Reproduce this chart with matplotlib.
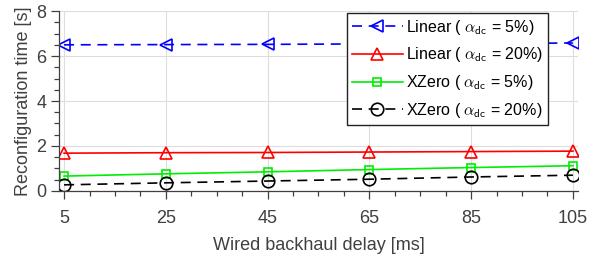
import numpy as np
import matplotlib
matplotlib.use("Agg")
import matplotlib.pyplot as plt

plt.rcParams["font.family"] = ["Liberation Sans", "DejaVu Sans"]
plt.rcParams["mathtext.fontset"] = "cm"

delay = [5, 25, 45, 65, 85, 105]
linear_5 = [6.50, 6.51, 6.52, 6.54, 6.56, 6.58]
linear_20 = [1.68, 1.70, 1.71, 1.73, 1.75, 1.77]
xzero_5 = [0.66, 0.76, 0.85, 0.95, 1.04, 1.12]
xzero_20 = [0.27, 0.36, 0.44, 0.52, 0.62, 0.70]

labels = [r"Linear ( $\alpha_{\mathsf{dc}}$ = 5%)",
          r"Linear ( $\alpha_{\mathsf{dc}}$ = 20%)",
          r"XZero ( $\alpha_{\mathsf{dc}}$ = 5%)",
          r"XZero ( $\alpha_{\mathsf{dc}}$ = 20%)"]

grey = "#404040"
fig = plt.figure(figsize=(5.91, 2.58), dpi=100)
ax = fig.add_axes([0.0998, 0.26, 0.978 - 0.0998, 0.957 - 0.26])

ax.plot(delay, linear_5, "--", color="blue", marker="<", ms=9, mfc="none", mew=1.2, lw=1.2, dashes=(6, 4), label=labels[0])
ax.plot(delay, linear_20, "-", color="red", marker="^", ms=9, mfc="none", mew=1.2, lw=1.2, label=labels[1])
ax.plot(delay, xzero_5, "-", color="#00ee00", marker="s", ms=6, mfc="none", mew=1.2, lw=1.2, label=labels[2])
ax.plot(delay, xzero_20, "--", color="black", marker="o", ms=9, mfc="none", mew=1.2, lw=1.2, dashes=(6, 4), label=labels[3])

ax.set_xlim(4, 106)
ax.set_ylim(0, 8)
ax.set_xticks(delay)
ax.set_xticks(np.arange(10, 105, 5), minor=True)
ax.set_yticks([0, 2, 4, 6, 8])
ax.set_yticks(np.arange(0, 8.01, 0.5), minor=True)
ax.grid(True, which="major", color="#dddddd", lw=0.8)
ax.set_axisbelow(True)
for s in ["top", "right"]:
    ax.spines[s].set_visible(False)
for s in ["left", "bottom"]:
    ax.spines[s].set_color(grey)
    ax.spines[s].set_linewidth(0.9)
ax.tick_params(which="major", direction="out", length=6, width=0.9, colors=grey, labelsize=13, pad=8)
ax.tick_params(which="minor", direction="out", length=3.5, width=0.9, colors=grey)
ax.tick_params(axis="y", pad=3)

ax.set_xlabel("Wired backhaul delay [ms]", fontsize=13, color=grey, labelpad=7)
ax.set_ylabel("Reconfiguration time [s]", fontsize=13, color=grey, labelpad=3)

leg = ax.legend(loc="upper right", bbox_to_anchor=(0.942, 0.99), fontsize=11.5, handlelength=3.2,
                frameon=True, fancybox=False, edgecolor="#222222", framealpha=1,
                borderpad=0.3, labelspacing=0.55, handletextpad=0.2, borderaxespad=0)
leg.get_frame().set_linewidth(1.0)

fig.savefig("out.png", dpi=100)
